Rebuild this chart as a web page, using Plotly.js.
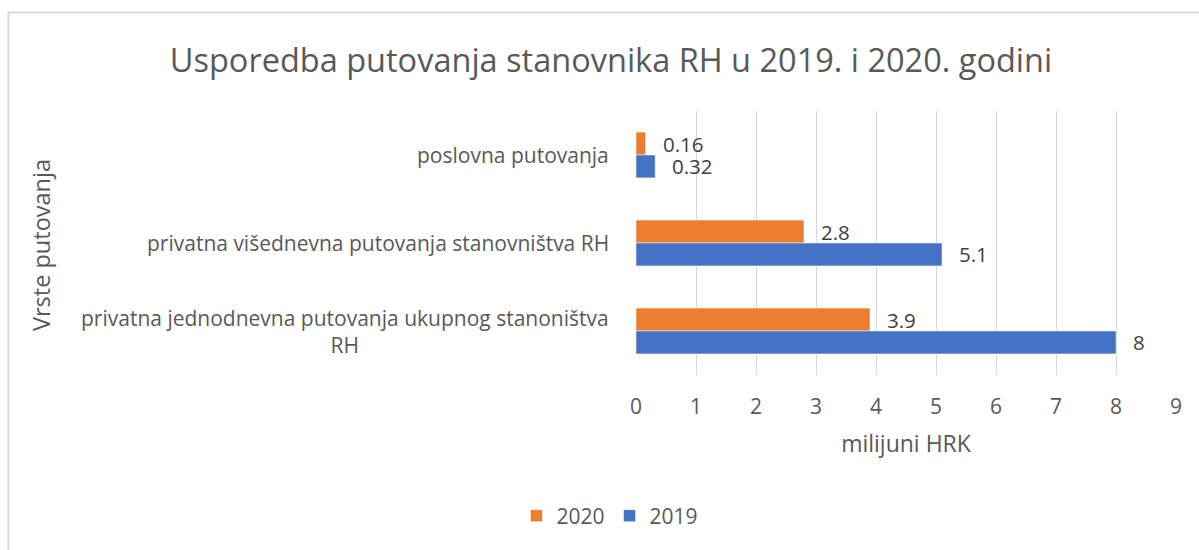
<!DOCTYPE html>
<html>
<head>
<meta charset="utf-8">
<script src="https://cdn.plot.ly/plotly-3.0.1.min.js"></script>
<style>html,body{margin:0;padding:0;background:#fff;}#chart{width:1199px;height:550px;}</style>
</head>
<body>
<div id="chart"></div>
<script>
const categories = [
  "poslovna putovanja",
  "privatna višednevna putovanja stanovništva RH",
  "privatna jednodnevna putovanja ukupnog stanoništva<br>RH"
];
const values2020 = [0.16, 2.8, 3.9];
const values2019 = [0.32, 5.1, 8];
const seriesNames = ["2020", "2019"];
const xTicks = [0, 1, 2, 3, 4, 5, 6, 7, 8, 9];

const W = 1199, H = 550;
const M = {l: 636, r: 23, t: 111, b: 175};
const PW = W - M.l - M.r, PH = H - M.t - M.b;
const px = x => (x - M.l) / PW;
const py = y => 1 - (y - M.t) / PH;

const FONT = "Open Sans, Liberation Sans, sans-serif";
const GREY = "#595959";

const traces = [
  {type: "bar", orientation: "h", name: seriesNames[0], y: categories, x: values2020,
   marker: {color: "#ED7D31", line: {color: "#ffffff", width: 0.5}}, hoverinfo: "none"},
  {type: "bar", orientation: "h", name: seriesNames[1], y: categories, x: values2019,
   marker: {color: "#4472C4", line: {color: "#ffffff", width: 0.5}}, hoverinfo: "none"}
];

const annotations = [];
// category labels
categories.forEach(c => annotations.push({
  xref: "paper", yref: "y", x: px(611), y: c, text: c, showarrow: false,
  xanchor: "right", yanchor: "middle", align: "center",
  font: {family: FONT, size: 21, color: GREY}
}));
// data labels (offset from the bar ends)
[values2020, values2019].forEach((vals, si) => {
  vals.forEach((v, i) => annotations.push({
    xref: "x", yref: "y", x: v, y: categories[i], text: String(v), showarrow: false,
    xanchor: "left", yanchor: "middle", xshift: 15, yshift: si === 0 ? 11.4 : -11.4,
    font: {family: FONT, size: 20.5, color: "#404040"}
  }));
});
// y axis title
annotations.push({
  xref: "paper", yref: "paper", x: px(41), y: py(245), text: "Vrste putovanja",
  textangle: -90, showarrow: false, xanchor: "center", yanchor: "middle",
  font: {family: FONT, size: 23.5, color: GREY}
});

const layout = {
  width: W, height: H,
  margin: M,
  paper_bgcolor: "#ffffff", plot_bgcolor: "#ffffff",
  font: {family: FONT, color: GREY},
  title: {text: "Usporedba putovanja stanovnika RH u 2019. i 2020. godini",
          font: {family: FONT, size: 32.5, color: GREY},
          x: 611 / W, xref: "container", xanchor: "center",
          y: 1 - 61 / H, yref: "container", yanchor: "middle"},
  barmode: "group", bargap: 0.48, bargroupgap: 0,
  xaxis: {range: [0, 9], tickvals: xTicks, ticktext: xTicks.map(String),
          showgrid: true, gridcolor: "#d9d9d9", gridwidth: 1, zeroline: false,
          showline: false, ticks: "", ticklabelstandoff: 17,
          tickfont: {family: FONT, size: 21, color: GREY},
          title: {text: "milijuni HRK", standoff: 16, font: {family: FONT, size: 23, color: GREY}},
          fixedrange: true},
  yaxis: {autorange: "reversed", showticklabels: false, showgrid: false, zeroline: false,
          showline: false, ticks: "", fixedrange: true},
  showlegend: true,
  legend: {orientation: "h", xref: "container", yref: "container",
           x: 610 / W, xanchor: "center", y: 1 - 516 / H, yanchor: "middle",
           font: {family: FONT, size: 21, color: GREY}, itemwidth: 30,
           traceorder: "normal"},
  annotations: annotations,
  shapes: [
    {type: "line", xref: "paper", yref: "paper", x0: px(8), x1: px(1199), y0: py(12.5), y1: py(12.5),
     line: {color: "#d9d9d9", width: 2}},
    {type: "line", xref: "paper", yref: "paper", x0: px(8.5), x1: px(8.5), y0: py(12), y1: py(550),
     line: {color: "#d9d9d9", width: 2}}
  ]
};

Plotly.newPlot("chart", traces, layout, {displayModeBar: false, staticPlot: true});
</script>
</body>
</html>
